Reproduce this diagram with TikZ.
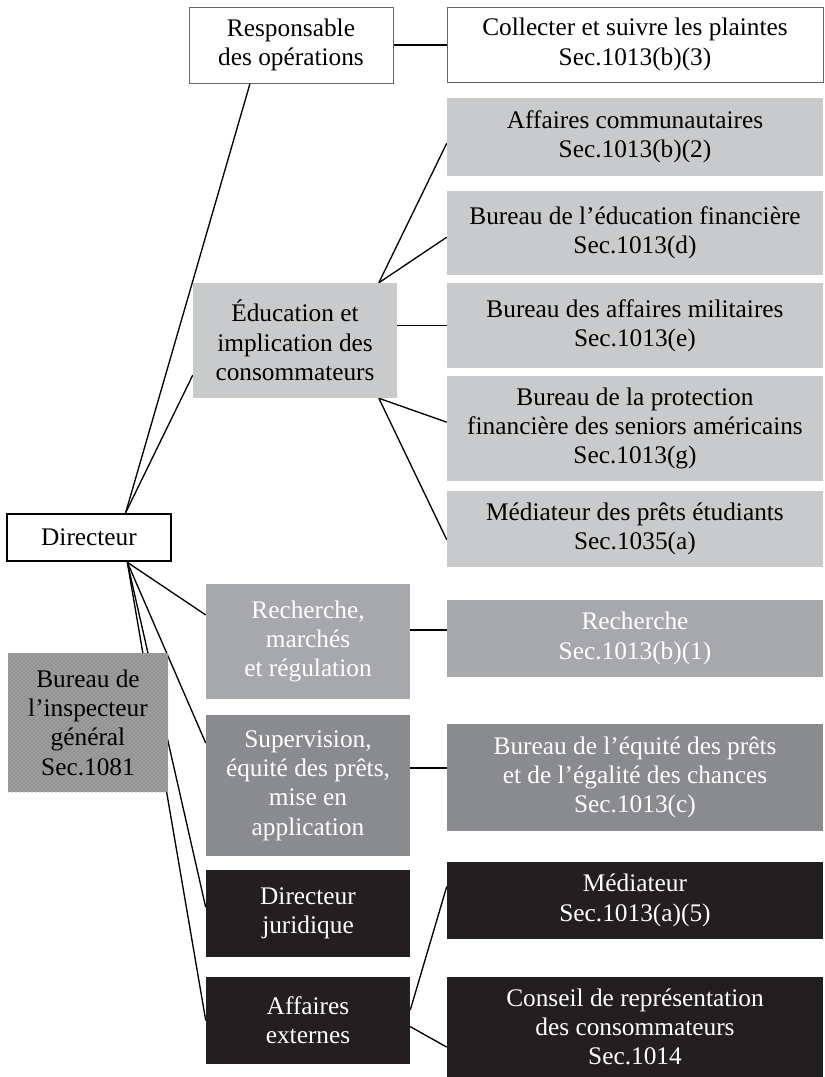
\documentclass[tikz,border=0pt]{standalone}
\usepackage{fontspec}
\setmainfont{Liberation Serif}
\usetikzlibrary{calc}
\usetikzlibrary{patterns}
\usetikzlibrary{backgrounds}
\definecolor{grisclair}{RGB}{201,202,204}
\definecolor{grismoyen}{RGB}{167,168,171}
\definecolor{grisfonce}{RGB}{138,139,142}
\definecolor{noir}{RGB}{35,31,32}
\tikzset{%
  myedge/.style={line width=1pt, black},
  mybox/.style 2 args={rectangle, inner sep=0pt, align=center,
    minimum width=#1*0.75pt, minimum height=#2*0.75pt,
    font=\fontsize{19}{22}\selectfont},
  blanc/.style={fill=white, draw=black!60, line width=0.6pt},
  clair/.style={fill=grisclair},
  moyen/.style={fill=grismoyen, text=white},
  fonce/.style={fill=grisfonce, text=white},
  sombre/.style={fill=noir, text=white}
}

\begin{document}
\begin{tikzpicture}[x=0.75pt, y=-0.75pt]
  \useasboundingbox (0,0) rectangle (824,1077);

\node [mybox={164}{47}, fill=white, draw=black, line width=2pt] (dir) at (89,537.5) {Directeur};
\node [mybox={160}{139}, fill=black!38, postaction={pattern=crosshatch dots, pattern color=black!58}] (insp) at (88,722.5)
  {Bureau de\\l’inspecteur\\général\\Sec.1081};

% colonne du milieu
\node [mybox={204}{76}, blanc] (resp) at (291,45) {Responsable\\des opérations};
\node [mybox={204}{115}, clair] (educ) at (295,340.5) {Éducation et\\implication des\\consommateurs};
\node [mybox={204}{115}, moyen] (rech) at (308,641.5) {Recherche,\\marchés\\et régulation};
\node [mybox={204}{141}, fonce] (superv) at (308,785.5) {Supervision,\\équité des prêts,\\mise en\\application};
\node [mybox={204}{87}, sombre] (jur) at (308,913.5) {Directeur\\juridique};
\node [mybox={204}{87}, sombre] (ext) at (308,1020.5) {Affaires\\externes};

% colonne de droite
\node [mybox={376}{75}, blanc] (plaintes) at (635,44.5) {Collecter et suivre les plaintes\\Sec.1013(b)(3)};
\node [mybox={376}{78}, clair] (commun) at (635,137) {Affaires communautaires\\Sec.1013(b)(2)};
\node [mybox={376}{84}, clair] (eduFin) at (635,233) {Bureau de l’éducation financière\\Sec.1013(d)};
\node [mybox={376}{85}, clair] (milit) at (635,325.5) {Bureau des affaires militaires\\Sec.1013(e)};
\node [mybox={376}{105}, clair] (seniors) at (635,428.5) {Bureau de la protection\\financière des seniors américains\\Sec.1013(g)};
\node [mybox={376}{76}, clair] (etud) at (635,529) {Médiateur des prêts étudiants\\Sec.1035(a)};
\node [mybox={376}{77}, moyen] (rechB) at (635,638.5) {Recherche\\Sec.1013(b)(1)};
\node [mybox={376}{107}, fonce] (equite) at (635,777.5) {Bureau de l’équité des prêts\\et de l’égalité des chances\\Sec.1013(c)};
\node [mybox={376}{77}, sombre] (mediat) at (635,900.5) {Médiateur\\Sec.1013(a)(5)};
\node [mybox={376}{100}, sombre] (conseil) at (635,1027) {Conseil de représentation\\des consommateurs\\Sec.1014};

\coordinate (dirN) at ($(dir.north west)!0.72!(dir.north east)$);
\coordinate (dirS) at ($(dir.south west)!0.73!(dir.south east)$);
\coordinate (educN) at ($(educ.north west)!0.91!(educ.north east)$);
\coordinate (educS) at ($(educ.south west)!0.91!(educ.south east)$);
\coordinate (rechE) at ($(rech.north east)!0.4!(rech.south east)$);
\coordinate (supervE) at ($(superv.north east)!0.376!(superv.south east)$);

% liens
\begin{pgfonlayer}{background}
\draw [myedge] (dirN) -- ($(resp.south west)!0.3!(resp.south east)$);
\draw [myedge] (dirN) -- ($(educ.north west)!0.8!(educ.south west)$);
\foreach \cible/\f in {rech/0.27, superv/0.2, jur/0.43, ext/0.5} {
  \draw [myedge] (dirS) -- ($(\cible.north west)!\f!(\cible.south west)$);
}
\foreach \cible/\f in {commun/0.58, eduFin/0.55} {
  \draw [myedge] (educN) -- ($(\cible.north west)!\f!(\cible.south west)$);
}
\foreach \cible/\f in {seniors/0.44, etud/0.64} {
  \draw [myedge] (educS) -- ($(\cible.north west)!\f!(\cible.south west)$);
}
\draw [myedge] (resp.east) -- (resp.east -| plaintes.west);
\draw [myedge] (educ.east |- milit.west) -- (milit.west);
\draw [myedge] (rechE) -- (rechE -| rechB.west);
\draw [myedge] (supervE) -- (supervE -| equite.west);
\draw [myedge] ($(ext.north east)!0.38!(ext.south east)$) -- ($(mediat.north west)!0.32!(mediat.south west)$);
\draw [myedge] ($(ext.north east)!0.57!(ext.south east)$) -- ($(conseil.north west)!0.7!(conseil.south west)$);
\end{pgfonlayer}

\end{tikzpicture}
\end{document}
